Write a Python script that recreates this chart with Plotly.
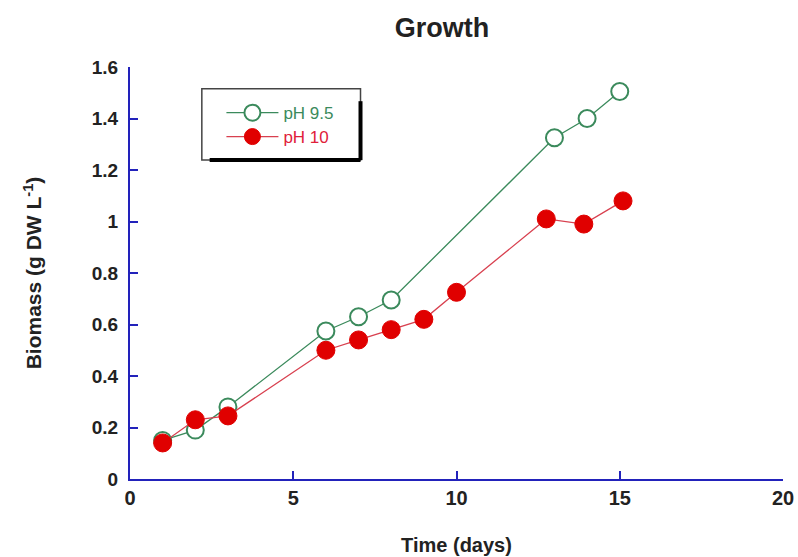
import plotly.graph_objects as go

# Data
days_ph95 = [1, 2, 3, 6, 7, 8, 13, 14, 15]
biomass_ph95 = [0.15, 0.19, 0.28, 0.575, 0.63, 0.695, 1.325, 1.40, 1.505]

days_ph10 = [1, 2, 3, 6, 7, 8, 9, 10, 12.75, 13.9, 15.1]
biomass_ph10 = [0.14, 0.23, 0.245, 0.50, 0.54, 0.58, 0.62, 0.725, 1.01, 0.99, 1.08]

x_ticks = [0, 5, 10, 15, 20]
y_ticks = [0, 0.2, 0.4, 0.6, 0.8, 1.0, 1.2, 1.4, 1.6]
y_tick_text = ["0", "0.2", "0.4", "0.6", "0.8", "1", "1.2", "1.4", "1.6"]

GREEN = "#3b8a5c"
RED = "#e00000"
AXIS_BLUE = "#2222bb"
FONT = "Arial, Liberation Sans, sans-serif"

fig = go.Figure()
fig.add_trace(go.Scatter(
    x=days_ph95, y=biomass_ph95, mode="lines+markers", name="pH 9.5",
    line=dict(color=GREEN, width=1.3),
    marker=dict(symbol="circle", size=17, color="white", line=dict(color=GREEN, width=2)),
    legend="legend",
))
fig.add_trace(go.Scatter(
    x=days_ph10, y=biomass_ph10, mode="lines+markers", name="pH 10",
    line=dict(color="#d8404f", width=1.3),
    marker=dict(symbol="circle", size=18, color=RED, line=dict(color=RED, width=1)),
    legend="legend2",
))

# legend frame (paper coords)
x0, x1, y0, y1 = 0.110, 0.353, 0.774, 0.947
shapes = [
    dict(type="rect", xref="paper", yref="paper", x0=x0, x1=x1, y0=y0, y1=y1,
         line=dict(color="#444444", width=1.5), fillcolor="rgba(0,0,0,0)", layer="above"),
    dict(type="line", xref="paper", yref="paper", x0=x1, x1=x1, y0=y0, y1=y1 - 0.03,
         line=dict(color="black", width=4), layer="above"),
    dict(type="line", xref="paper", yref="paper", x0=x0 + 0.012, x1=x1, y0=y0, y1=y0,
         line=dict(color="black", width=4), layer="above"),
]

fig.update_layout(
    width=798, height=557,
    margin=dict(l=130, r=15, t=67, b=78, autoexpand=False),
    paper_bgcolor="white", plot_bgcolor="white",
    font=dict(family=FONT, color="#222222"),
    title=dict(text="<b>Growth</b>", x=0.554, xanchor="center", y=0.951, yanchor="middle",
               font=dict(size=27, color="#222222", family=FONT)),
    xaxis=dict(range=[0, 20], tickvals=x_ticks, ticks="inside", ticklen=8, tickwidth=2,
               tickcolor=AXIS_BLUE, showline=True, linecolor=AXIS_BLUE, linewidth=2,
               showgrid=False, zeroline=False, mirror=False,
               tickfont=dict(size=20, family=FONT, color="#222222", weight="bold"),
               title=dict(text="<b>Time (days)</b>", font=dict(size=20, family=FONT), standoff=30)),
    yaxis=dict(range=[0, 1.6], tickvals=y_ticks, ticktext=y_tick_text, ticks="inside", ticklen=8,
               tickwidth=2, tickcolor=AXIS_BLUE, showline=True, linecolor=AXIS_BLUE, linewidth=2,
               showgrid=False, zeroline=False, ticklabelstandoff=6,
               tickfont=dict(size=19, family=FONT, color="#222222", weight="bold"),
               title=dict(text="<b>Biomass (g DW L<sup>-1</sup>)</b>", font=dict(size=21, family=FONT),
                          standoff=44)),
    legend=dict(x=0.140, y=0.888, xanchor="left", yanchor="middle", bgcolor="rgba(0,0,0,0)",
                font=dict(size=17, color=GREEN, family=FONT), itemwidth=52),
    legend2=dict(x=0.140, y=0.830, xanchor="left", yanchor="middle", bgcolor="rgba(0,0,0,0)",
                 font=dict(size=17, color="#e0203a", family=FONT), itemwidth=52),
    shapes=shapes,
    showlegend=True,
)

fig.write_html("out.html")
